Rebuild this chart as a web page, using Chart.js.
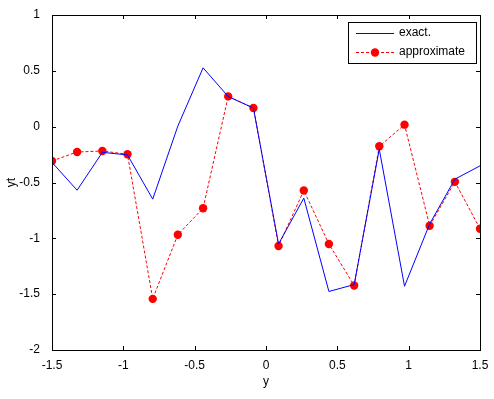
<!DOCTYPE html>
<html>
<head>
<meta charset="utf-8">
<script src="https://cdn.jsdelivr.net/npm/chart.js@4/dist/chart.umd.min.js"></script>
<style>
  html, body { margin: 0; padding: 0; background: #fff; }
  #wrap { width: 494px; height: 399px; }
</style>
</head>
<body>
<div id="wrap"><canvas id="c" width="494" height="399"></canvas></div>
<script>
/* ---------- Data ---------- */
const xs = [-1.5, -1.324, -1.147, -0.971, -0.794, -0.618, -0.441, -0.265, -0.088,
            0.088, 0.265, 0.441, 0.618, 0.794, 0.971, 1.147, 1.324, 1.5];
const exact = [-0.32, -0.569, -0.23, -0.253, -0.649, 0.005, 0.527, 0.27, 0.166,
               -1.05, -0.64, -1.476, -1.414, -0.202, -1.429, -0.872, -0.47, -0.351];
const approx = [-0.307, -0.227, -0.218, -0.247, -1.542, -0.968, -0.73, 0.271, 0.168,
                -1.068, -0.571, -1.051, -1.423, -0.176, 0.018, -0.887, -0.494, -0.914];
const xTicks = [-1.5, -1, -0.5, 0, 0.5, 1, 1.5];
const yTicks = [-2, -1.5, -1, -0.5, 0, 0.5, 1];
const seriesNames = ['exact.', 'approximate'];

const FONT = "'Liberation Sans', Arial, sans-serif";

function pts(ys) { return xs.map((x, i) => ({ x, y: ys[i] })); }

/* ---------- MATLAB-style box, inward ticks, legend ---------- */
const boxPlugin = {
  id: 'box',
  afterDraw(chart) {
    const { ctx, chartArea: a, scales } = chart;
    ctx.save();
    ctx.strokeStyle = '#000';
    ctx.lineWidth = 1;
    ctx.strokeRect(Math.round(a.left) + 0.5, Math.round(a.top) + 0.5,
                   Math.round(a.right - a.left), Math.round(a.bottom - a.top));
    ctx.beginPath();
    xTicks.forEach(v => {
      const px = Math.round(scales.x.getPixelForValue(v)) + 0.5;
      ctx.moveTo(px, a.bottom); ctx.lineTo(px, a.bottom - 4);
      ctx.moveTo(px, a.top); ctx.lineTo(px, a.top + 4);
    });
    yTicks.forEach(v => {
      const py = Math.round(scales.y.getPixelForValue(v)) + 0.5;
      ctx.moveTo(a.left, py); ctx.lineTo(a.left + 4, py);
      ctx.moveTo(a.right, py); ctx.lineTo(a.right - 4, py);
    });
    ctx.stroke();

    // legend
    const L = 348.5, T = 22.5, W = 128, H = 41;
    ctx.fillStyle = '#fff';
    ctx.fillRect(L, T, W, H);
    ctx.strokeStyle = '#000';
    ctx.strokeRect(L, T, W, H);
    ctx.font = '12px ' + FONT;
    ctx.textBaseline = 'middle';
    // exact
    ctx.strokeStyle = '#0000ff';
    ctx.beginPath(); ctx.moveTo(356, 33.5); ctx.lineTo(394, 33.5); ctx.stroke();
    ctx.fillStyle = '#000';
    ctx.fillText(seriesNames[0], 399, 33);
    // approximate
    ctx.strokeStyle = '#ff0000';
    ctx.setLineDash([3, 2]);
    ctx.beginPath(); ctx.moveTo(356, 52.5); ctx.lineTo(394, 52.5); ctx.stroke();
    ctx.setLineDash([]);
    ctx.fillStyle = '#ff0000';
    ctx.beginPath(); ctx.arc(375, 52.5, 4.2, 0, Math.PI * 2); ctx.fill();
    ctx.fillStyle = '#000';
    ctx.fillText(seriesNames[1], 399, 52);
    ctx.restore();
  }
};

new Chart(document.getElementById('c'), {
  type: 'scatter',
  data: {
    datasets: [
      {
        label: seriesNames[0],
        data: pts(exact),
        showLine: true,
        borderColor: '#0000ff',
        borderWidth: 1,
        pointRadius: 0,
        fill: false
      },
      {
        label: seriesNames[1],
        data: pts(approx),
        showLine: true,
        borderColor: '#ff0000',
        borderWidth: 1,
        borderDash: [3, 2],
        pointRadius: 4.2,
        pointBackgroundColor: '#ff0000',
        pointBorderColor: '#ff0000',
        pointBorderWidth: 0,
        fill: false
      }
    ]
  },
  options: {
    responsive: false,
    animation: false,
    events: [],
    layout: { padding: { top: 15, right: 14, left: 0, bottom: 6 } },
    plugins: { legend: { display: false }, tooltip: { enabled: false } },
    scales: {
      x: {
        type: 'linear',
        min: -1.5, max: 1.5,
        afterBuildTicks(s) { s.ticks = xTicks.map(v => ({ value: v })); },
        afterFit(s) { s.height = 43; },
        grid: { display: false },
        border: { display: false },
        ticks: { color: '#000', font: { family: FONT, size: 12 }, padding: 0,
                 maxRotation: 0, autoSkip: false, callback: v => String(v) },
        title: { display: true, text: 'y', color: '#000', font: { family: FONT, size: 12 },
                 padding: { top: 0 } }
      },
      y: {
        type: 'linear',
        min: -2, max: 1,
        afterBuildTicks(s) { s.ticks = yTicks.map(v => ({ value: v })); },
        afterFit(s) { s.width = 52; },
        grid: { display: false },
        border: { display: false },
        ticks: { color: '#000', font: { family: FONT, size: 12 }, padding: 4, autoSkip: false,
                 callback: v => String(v) },
        title: { display: true, text: 'yt', color: '#000', font: { family: FONT, size: 12 },
                 padding: { bottom: 0 } }
      }
    }
  },
  plugins: [boxPlugin]
});
</script>
</body>
</html>
